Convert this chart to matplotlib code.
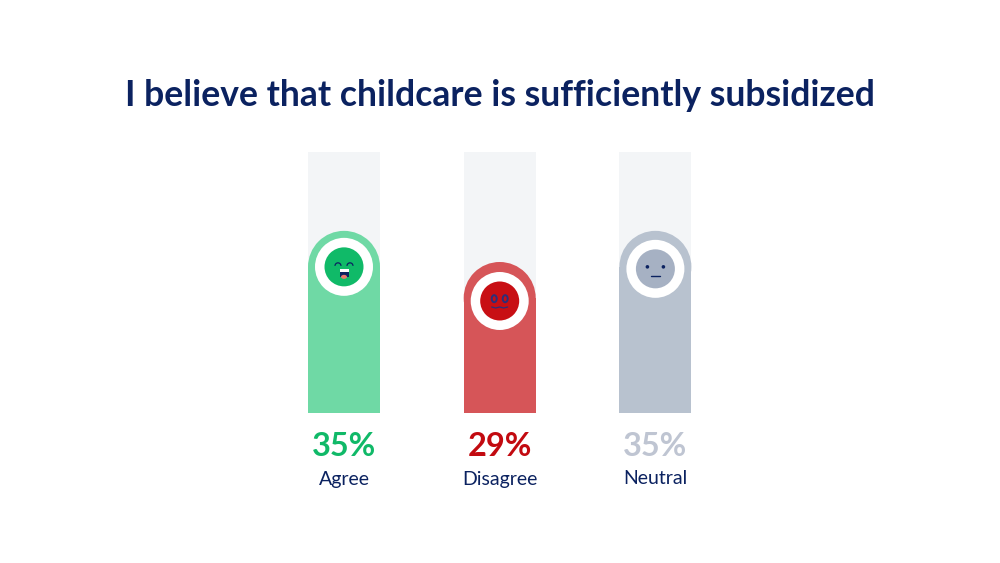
import matplotlib
matplotlib.use('Agg')
import matplotlib.pyplot as plt
from matplotlib.patches import Ellipse, Arc

# data
categories = ['Agree', 'Disagree', 'Neutral']
values = [35, 29, 35]
labels = ['35%', '29%', '35%']
track_max = 50.2

bar_colors = ['#6FD9A5', '#D65558', '#B8C2CF']
face_colors = ['#10BA68', '#C80F14', '#A6B1C3']
text_colors = ['#10B968', '#C20A10', '#BFC5D2']
navy = '#0B2260'
track_color = '#F3F5F7'

px_x = 155.7    # pixels per category
px_y = 5.19     # pixels per percent
face_drop = [36, 39, 38]   # face centre below bar top, px

plt.rcParams['font.family'] = ['Lato', 'DejaVu Sans']

fig = plt.figure(figsize=(10, 5.63), dpi=100)
ax = fig.add_axes([0, 0, 1, 1])
ax.set_xlim(-344 / px_x, (1000 - 344) / px_x)
ax.set_ylim(-(563 - 412.5) / px_y, 412.5 / px_y)
ax.axis('off')

bar_w = 72 / px_x
r_x = 36 / px_x
r_y = 36 / px_y


def dx(p):
    return p / px_x


def dy(p):
    return p / px_y


def ellipse(x, y, rx, ry, color, z):
    ax.add_patch(Ellipse((x, y), 2 * dx(rx), 2 * dy(ry), facecolor=color, edgecolor='none', zorder=z))


def stroke(xs, ys, color, lw=1.0, z=6):
    ax.plot(xs, ys, color=color, lw=lw, solid_capstyle='round', zorder=z)


x_pos = list(range(len(categories)))
ax.bar(x_pos, [track_max] * 3, width=bar_w, color=track_color, zorder=1)
ax.bar(x_pos, [v - r_y for v in values], width=bar_w, color=bar_colors, zorder=2)

for i, v in enumerate(values):
    ax.add_patch(Ellipse((i, v - r_y), bar_w, 2 * r_y, facecolor=bar_colors[i], edgecolor='none', zorder=2))
    cy = v - dy(face_drop[i])
    ellipse(i, cy, 29, 29, 'white', 3)
    ellipse(i, cy, 19.5, 19.5, face_colors[i], 4)

    ax.text(i, dy(-33.5), labels[i], color=text_colors[i], fontsize=23.4, fontweight='bold', ha='center', va='center')
    ax.text(i, dy(-66.5), categories[i], color=navy, fontsize=14, ha='center', va='center')

# Agree face
cy = values[0] - dy(face_drop[0])
for sx in (-1, 1):
    ax.add_patch(Arc((sx * dx(6), cy + dy(1)), dx(6), dy(6), theta1=0, theta2=180, color=navy, lw=0.9, zorder=6))
ax.fill_between([-dx(4.5), dx(4.5)], cy - dy(10), cy - dy(2), color=navy, zorder=5, lw=0)
ax.fill_between([-dx(4.5), dx(4.5)], cy - dy(5), cy - dy(2), color='white', zorder=6, lw=0)
ellipse(0, cy - dy(10), 3, 2, '#E8786A', 6)

# Disagree face
cy = values[1] - dy(face_drop[1])
for sx in (-1, 1):
    ellipse(1 + sx * dx(5.5), cy + dy(2.3), 3.5, 4.5, '#2C2F7A', 5)
    ellipse(1 + sx * dx(5.5), cy + dy(2.3), 1.5, 2.5, face_colors[1], 6)
stroke([1 - dx(8), 1 - dx(4), 1, 1 + dx(4), 1 + dx(8)],
       [cy - dy(6), cy - dy(7), cy - dy(6), cy - dy(7), cy - dy(6)], '#2C2F7A', lw=0.9)

# Neutral face
cy = values[2] - dy(face_drop[2])
for sx in (-1, 1):
    ellipse(2 + sx * dx(8), cy + dy(2), 1.8, 1.8, navy, 6)
stroke([2 - dx(4.5), 2 + dx(4.5)], [cy - dy(7.5), cy - dy(7.5)], navy, lw=1.0)

# title
ax.text(dx(156), dy(412.5 - 95), 'I believe that childcare is sufficiently subsidized',
        color=navy, fontsize=25.6, fontweight='bold', ha='center', va='center')

fig.savefig('out.png', dpi=100)
